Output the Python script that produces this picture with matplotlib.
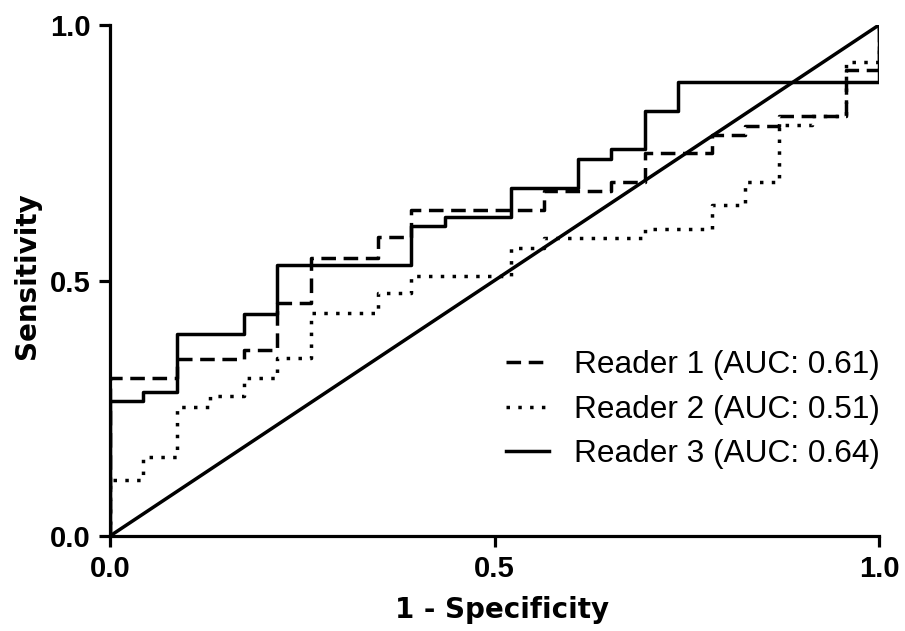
import matplotlib
matplotlib.use("Agg")
import matplotlib.pyplot as plt

# Data
r1_fpr = [0, 0, 0.087, 0.174, 0.217, 0.261, 0.348, 0.391, 0.565, 0.652, 0.696, 0.783, 0.826, 0.870, 0.957, 1.0]
r1_tpr = [0, 0.310, 0.346, 0.364, 0.455, 0.545, 0.585, 0.637, 0.675, 0.693, 0.749, 0.785, 0.802, 0.821, 0.911, 1.0]

r2_fpr = [0, 0, 0.043, 0.087, 0.130, 0.174, 0.217, 0.261, 0.348, 0.391, 0.522, 0.565, 0.696, 0.783, 0.826, 0.870, 0.913, 0.957, 1.0]
r2_tpr = [0, 0.110, 0.155, 0.253, 0.273, 0.309, 0.348, 0.437, 0.475, 0.509, 0.564, 0.583, 0.600, 0.648, 0.693, 0.804, 0.821, 0.928, 1.0]

r3_fpr = [0, 0, 0.043, 0.087, 0.174, 0.217, 0.391, 0.435, 0.522, 0.609, 0.652, 0.696, 0.739, 1.0]
r3_tpr = [0, 0.264, 0.282, 0.395, 0.434, 0.530, 0.607, 0.625, 0.681, 0.737, 0.757, 0.832, 0.889, 1.0]

labels = ["Reader 1 (AUC: 0.61)", "Reader 2 (AUC: 0.51)", "Reader 3 (AUC: 0.64)"]
ticks = [0.0, 0.5, 1.0]
tick_labels = ["0.0", "0.5", "1.0"]

fig = plt.figure(figsize=(9.05, 6.31), dpi=100)
ax = fig.add_axes([110/905, 1-536/631, (879-110)/905, (536-25)/631])

lw = 2.5
ax.plot(r1_fpr, r1_tpr, drawstyle="steps-post", color="black", lw=lw,
        linestyle=(0, (4.2, 2.2)), label=labels[0])
ax.plot(r2_fpr, r2_tpr, drawstyle="steps-post", color="black", lw=lw,
        linestyle=(0, (1, 2.4)), label=labels[1])
ax.plot(r3_fpr, r3_tpr, drawstyle="steps-post", color="black", lw=lw,
        linestyle="-", label=labels[2])
ax.plot([0, 1], [0, 1], color="black", lw=lw)

ax.set_xlim(0, 1)
ax.set_ylim(0, 1)
for s in ["top", "right"]:
    ax.spines[s].set_visible(False)
for s in ["left", "bottom"]:
    ax.spines[s].set_linewidth(2.3)
ax.set_xticks(ticks)
ax.set_yticks(ticks)
ax.set_xticklabels(tick_labels, fontfamily="Liberation Sans", fontweight="bold", fontsize=21)
ax.set_yticklabels(tick_labels, fontfamily="Liberation Sans", fontweight="bold", fontsize=21)
ax.tick_params(axis="both", direction="out", length=8, width=2.3)
ax.tick_params(axis="y", pad=6)
ax.tick_params(axis="x", pad=5.5)

ax.set_xlabel("1 - Specificity", fontfamily="DejaVu Sans", fontweight="bold", fontsize=20, va="center")
ax.set_ylabel("Sensitivity", fontfamily="DejaVu Sans", fontweight="bold", fontsize=20, va="center")
ax.xaxis.set_label_coords((502-110)/769, (536-610)/511)
ax.yaxis.set_label_coords((27.5-110)/769, (536-276)/511)

leg = ax.legend(loc="lower right", bbox_to_anchor=((880-110)/769, (536-469)/511),
                frameon=False, borderaxespad=0, borderpad=0,
                prop={"family": "Liberation Sans", "size": 22.8},
                handlelength=1.35, handletextpad=0.8, labelspacing=0.45)

fig.savefig("out.png", dpi=100)
